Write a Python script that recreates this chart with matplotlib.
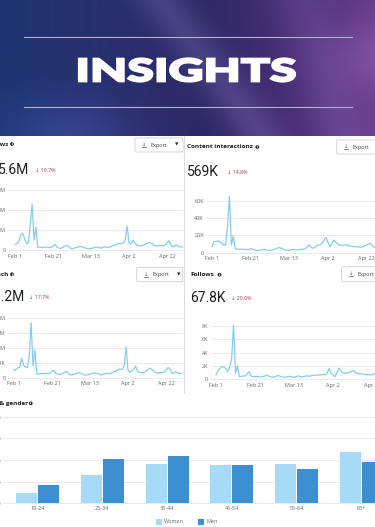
import numpy as np
import pandas as pd
import matplotlib
matplotlib.use("Agg")
import matplotlib.pyplot as plt
from matplotlib.patches import FancyBboxPatch, Circle, PathPatch, Rectangle
from matplotlib.textpath import TextPath
from matplotlib.font_manager import FontProperties
from matplotlib.path import Path

W, H = 375, 527

# daily data, Feb 1 - Apr 30
dates = pd.date_range("2025-02-01", "2025-04-30")
tick_labels = [f"{d:%b} {d.day}" for d in dates[::20]]

views = [0.28, 0.32, 0.42, 0.75, 0.83, 0.6, 0.33, 0.35, 1.2, 2.3,
         0.5, 1.13, 0.13, 0.12, 0.14, 0.13, 0.14, 0.15, 0.12, 0.14,
         0.2, 0.28, 0.16, 0.1, 0.08, 0.12, 0.18, 0.22, 0.2, 0.1,
         0.06, 0.08, 0.12, 0.14, 0.18, 0.17, 0.14, 0.1, 0.08, 0.06,
         0.07, 0.1, 0.13, 0.15, 0.13, 0.1, 0.12, 0.16, 0.14, 0.13,
         0.15, 0.2, 0.22, 0.26, 0.3, 0.33, 0.32, 0.35, 0.5, 1.2,
         0.35, 0.3, 0.5, 0.38, 0.25, 0.22, 0.2, 0.22, 0.26, 0.3,
         0.35, 0.38, 0.32, 0.25, 0.2, 0.2, 0.22, 0.22, 0.2, 0.25,
         0.35, 0.47, 0.25, 0.15, 0.22, 0.25, 0.18, 0.16, 0.15]  # millions

reach = [233, 280, 330, 345, 650, 420, 360, 340, 700, 1830,
         400, 920, 120, 130, 140, 130, 140, 150, 130, 160,
         220, 250, 150, 120, 100, 120, 160, 200, 200, 110,
         90, 100, 120, 150, 170, 150, 120, 95, 85, 100,
         120, 140, 160, 150, 145, 110, 90, 110, 140, 150,
         130, 150, 180, 200, 240, 280, 280, 275, 400, 1030,
         250, 170, 230, 280, 390, 210, 180, 160, 170, 200,
         240, 290, 310, 250, 180, 160, 160, 170, 170, 190,
         250, 340, 300, 160, 150, 200, 170, 140, 150]  # thousands

interactions = [6.9, 12.7, 13, 13.5, 12.5, 11.5, 9, 8.8, 30, 65,
                9, 19, 5, 4, 4, 4.2, 3.8, 4, 3.5, 3.5,
                4.5, 4.2, 3, 2.5, 2.5, 3, 3.5, 3.8, 3.2, 2.6,
                2.5, 3, 3.5, 4.5, 5.5, 6, 5, 4, 3, 2.5,
                2.8, 3.5, 3.8, 3.5, 3.2, 3.5, 4, 4, 4.5, 6,
                8.8, 7, 5, 6, 8, 8.8, 9, 11, 15, 17.7,
                12, 7, 10, 14.6, 12, 10, 9, 8.5, 8.5, 9,
                9, 8, 7.5, 7, 7, 6.8, 6.5, 6.5, 7, 8,
                9, 10, 11, 8, 6, 7, 6.5, 6, 6]  # thousands

follows = [0.65, 1.3, 1.6, 1.9, 1.85, 1.6, 1.15, 1.9, 3, 8.15,
           0.9, 2.0, 0.4, 0.45, 0.5, 0.5, 0.8, 1.15, 0.5, 0.4,
           0.4, 0.45, 0.4, 0.35, 0.4, 0.5, 0.6, 0.5, 0.35, 0.3,
           0.35, 0.5, 0.55, 0.45, 0.35, 0.3, 0.35, 0.45, 0.4, 0.35,
           0.3, 0.4, 0.5, 0.45, 0.35, 0.4, 0.5, 0.5, 0.45, 0.55,
           0.6, 0.6, 0.65, 0.65, 0.7, 0.7, 0.7, 0.9, 1.65, 0.9,
           0.65, 0.4, 1.0, 1.65, 1.3, 0.95, 0.9, 1.0, 0.95, 1.1,
           1.3, 1.2, 0.9, 0.85, 0.8, 0.8, 0.75, 0.7, 0.7, 0.65,
           0.7, 0.8, 0.9, 0.75, 0.7, 0.75, 0.7, 0.7, 0.7]  # thousands

age_groups = ["18-24", "25-34", "35-44", "45-54", "55-64", "65+"]
women = [2.45, 6.55, 9.0, 8.75, 9.1, 11.75]
men = [4.3, 10.15, 11.0, 8.85, 7.9, 9.55]

LINE = "#86ccf2"
GRID = "#e6e7ea"
TICK = "#606770"
DARK = "#1c1e21"
RED = "#b2344a"
WOMEN_C = "#a6daf6"
MEN_C = "#3d8fd1"
NUMFONT = dict(family="Roboto", weight="normal")
TXTFONT = ["Open Sans", "DejaVu Sans"]

fig = plt.figure(figsize=(3.75, 5.27), dpi=100)
bg = fig.add_axes([0, 0, 1, 1])
bg.axis("off")

# banner background
X, Y = np.meshgrid(np.arange(W), np.arange(136))
stops_x = [0, 0.3, 0.55, 0.8, 1.0]
stops_c = np.array([[0.12, 0.21, 0.45], [0.16, 0.18, 0.43], [0.18, 0.16, 0.40],
                    [0.29, 0.18, 0.46], [0.40, 0.24, 0.54]])
t = X / (W - 1)
img = np.stack([np.interp(t, stops_x, stops_c[:, k]) for k in range(3)], axis=-1)
s1 = np.exp(-((X - (160 + 0.75 * Y)) / 26.0) ** 2) * 0.11
s2 = np.exp(-((X - (300 + 0.3 * Y)) / 30.0) ** 2) * 0.07
s3 = np.exp(-(((X - 70) / 60.0) ** 2 + ((Y - 136) / 40.0) ** 2)) * 0.12
s4 = np.exp(-(((X - 375) / 40.0) ** 2 + ((Y - 55) / 35.0) ** 2)) * 0.10
img = img + s1[..., None] * np.array([0.9, 0.85, 1.0]) \
    + s2[..., None] * np.array([0.9, 0.8, 1.0]) + s3[..., None] * np.array([0.5, 0.6, 1.0]) \
    + s4[..., None] * np.array([1.0, 0.7, 1.0])
bg.imshow(np.clip(img, 0, 1), extent=(0, W, 136, 0), aspect="auto", zorder=0)
bg.set_xlim(0, W)
bg.set_ylim(H, 0)

for yy in (37.3, 107.3):
    bg.plot([24, 352], [yy, yy], color="#b3acdc", lw=0.8, zorder=2)

tp = TextPath((0, 0), "INSIGHTS", size=10, prop=FontProperties(family="Lato", weight="black"))
ext = tp.get_extents()
v = tp.vertices
vx = 79 + (v[:, 0] - ext.x0) / ext.width * 216
vy = 81.5 - (v[:, 1] - ext.y0) / ext.height * 23
bg.add_patch(PathPatch(Path(np.column_stack([vx, vy]), tp.codes), fc="white", ec="white",
                       lw=1.6, joinstyle="miter", zorder=3))

# panel divider
bg.plot([183.5, 183.5], [136, 393], color="#dcdde0", lw=0.8, zorder=1)


def info(x, y):
    bg.add_patch(Circle((x, y), 1.9, fc="#2b2b2b", ec="none", zorder=3))
    bg.text(x, y + 0.2, "i", color="white", fontsize=2.5, ha="center", va="center",
            fontweight="bold", zorder=4)


def export_btn(x, y0, y1, w=48):
    bg.add_patch(FancyBboxPatch((x, y0), w, y1 - y0, boxstyle="round,pad=0,rounding_size=1.5",
                                fc="white", ec="#cfd0d4", lw=0.6, zorder=2))
    yc = (y0 + y1) / 2
    bg.text(x + 9, yc - 0.5, "↓", fontsize=3.6, color="#444", ha="center", va="center",
            family=TXTFONT, zorder=3)
    bg.plot([x + 7, x + 11], [yc + 2.0, yc + 2.0], color="#444", lw=0.5, zorder=3)
    bg.text(x + 15.5, yc, "Export", fontsize=4, color="#444", va="center",
            family=TXTFONT, zorder=3)
    bg.text(x + 42, yc, "▼", fontsize=3.2, color="#222", va="center", ha="center", zorder=3)


def header(title, tx, ty, ha, icon_x, num, nx, ny, nha, delta, dx, dy):
    bg.text(tx, ty, title, fontsize=4.6, fontweight="bold", color=DARK, ha=ha, va="center",
            family=TXTFONT)
    info(icon_x, ty)
    bg.text(nx, ny, num, fontsize=10, color=DARK, ha=nha, va="center", **NUMFONT)
    bg.text(dx, dy, delta, fontsize=3.8, color=RED, ha="left", va="center", family=TXTFONT)


def px_axes(x0, x1, ytop, ybot):
    return fig.add_axes([x0 / W, 1 - ybot / H, (x1 - x0) / W, (ybot - ytop) / H])


def line_chart(vals, x0, x1, day0, pxday, y0, pxunit, ytop, yticks, ylabels, ypad):
    ybot = y0 + 2
    ax = px_axes(x0, x1, ytop, ybot)
    ax.set_facecolor("none")
    days = np.arange(len(vals))
    ax.plot(days, vals, color=LINE, lw=0.9)
    ax.set_xlim((x0 - day0) / pxday, (x1 - day0) / pxday)
    ax.set_ylim((y0 - ybot) / pxunit, (y0 - ytop) / pxunit)
    ax.set_yticks(yticks, ylabels)
    ax.set_xticks(days[::20], tick_labels)
    ax.grid(axis="y", color=GRID, lw=0.6)
    ax.set_axisbelow(True)
    for sp in ax.spines.values():
        sp.set_visible(False)
    ax.tick_params(axis="both", length=0, labelsize=4, labelcolor=TICK)
    ax.tick_params(axis="y", pad=ypad * 0.72)
    ax.tick_params(axis="x", pad=1.2)
    for lab in ax.get_xticklabels() + ax.get_yticklabels():
        lab.set_family(TXTFONT)
    return ax


# Views
header("Views", 8.7, 144, "right", 12, "5.6M", 29.3, 170, "right", "↓ 19.7%", 35, 170)
export_btn(135, 138, 152)
line_chart(views, 8, 183, 15, 1.9, 250, 20, 184,
           [0, 1, 2, 3], ["0", "1M", "2M", "3M"], 2)

# Content interactions
header("Content interactions", 186.7, 147, "left", 257.3, "569K", 186.7, 172, "left",
       "↓ 14.8%", 226.7, 172.7)
export_btn(336.7, 140, 154)
line_chart(interactions, 207, 385, 212, 1.933, 252.7, 0.8667, 195,
           [0, 20, 40, 60], ["0", "20K", "40K", "60K"], 3)

# Reach
header("Reach", 8.5, 274.3, "right", 12, "1.2M", 25, 297.3, "right", "↓ 17.7%", 29.3, 297.3)
export_btn(136.7, 267.3, 281.7, w=46)
line_chart(reach, 8, 183, 14, 1.9, 377.7, 0.03, 312,
           [0, 500, 1000, 1500, 2000], ["0", "500K", "1M", "1.5M", "2M"], 2.5)

# Follows
header("Follows", 190.5, 274.7, "left", 219.5, "67.8K", 190, 297.7, "left", "↓ 20.6%", 231, 298)
export_btn(341.7, 266.7, 281.7)
line_chart(follows, 211, 385, 216, 1.95, 379.3, 6.667, 320,
           [0, 2, 4, 6, 8], ["0", "2K", "4K", "6K", "8K"], 3)

# Age & gender
bg.text(27.5, 403.3, "Age & gender", fontsize=4.6, fontweight="bold", color=DARK, ha="right",
        va="center", family=TXTFONT)
info(30.7, 403.3)

gx0, gstep = 37.7, 64.67
ax = px_axes(3, W, 410, 505)
ax.set_facecolor("none")
pos = np.arange(len(age_groups))
ax.bar(pos - 0.17, women, width=0.325, color=WOMEN_C)
ax.bar(pos + 0.17, men, width=0.325, color=MEN_C)
ax.set_xlim((3 - gx0) / gstep, (W - gx0) / gstep)
ax.set_ylim(-(505 - 503.3) / 4.333, (503.3 - 410) / 4.333)
ax.set_yticks([0, 5, 10, 15, 20], ["0%", "5%", "10%", "15%", "20%"])
ax.set_xticks(pos, age_groups)
ax.grid(axis="y", color=GRID, lw=0.6)
ax.set_axisbelow(True)
for sp in ax.spines.values():
    sp.set_visible(False)
ax.tick_params(axis="both", length=0, labelsize=4, labelcolor=TICK)
ax.tick_params(axis="y", pad=1.1)
ax.tick_params(axis="x", pad=0.6)
for lab in ax.get_xticklabels() + ax.get_yticklabels():
    lab.set_family(TXTFONT)

# legend
bg.add_patch(Rectangle((155.7, 518.7), 6, 6, fc=WOMEN_C, ec="none"))
bg.text(163.5, 521.7, "Women", fontsize=4, color=TICK, va="center", family=TXTFONT)
bg.add_patch(Rectangle((198, 518.7), 6, 6, fc=MEN_C, ec="none"))
bg.text(206.5, 521.7, "Men", fontsize=4, color=TICK, va="center", family=TXTFONT)

fig.savefig("out.png", dpi=100)
